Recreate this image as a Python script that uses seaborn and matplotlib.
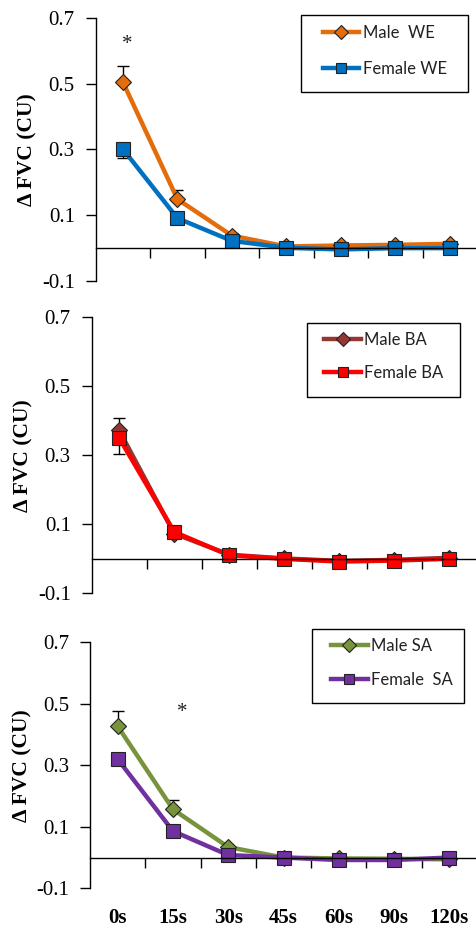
import numpy as np
import pandas as pd
import matplotlib
matplotlib.use("Agg")
import matplotlib.pyplot as plt
from matplotlib.lines import Line2D
from matplotlib.patches import Rectangle
import seaborn as sns

# ---------------- data ----------------
times = ['0s', '15s', '30s', '45s', '60s', '90s', '120s']
ytick_vals = [-0.1, 0.1, 0.3, 0.5, 0.7]
ytick_labels = ['-0.1', '0.1', '0.3', '0.5', '0.7']

male_we = [0.505, 0.149, 0.038, 0.005, 0.008, 0.010, 0.013]
female_we = [0.301, 0.091, 0.022, 0.001, -0.004, 0.000, 0.000]
male_we_err = [0.050, 0.028, 0.008, 0.004, 0.004, 0.004, 0.004]
female_we_err = [0.028, 0.005, 0.003, 0.002, 0.002, 0.002, 0.002]

male_ba = [0.372, 0.073, 0.012, 0.001, -0.006, -0.003, 0.003]
female_ba = [0.350, 0.078, 0.010, 0.000, -0.008, -0.005, 0.000]
male_ba_err = [0.037, 0.006, 0.005, 0.004, 0.004, 0.004, 0.004]
female_ba_err = [0.046, 0.005, 0.002, 0.015, 0.003, 0.002, 0.002]

male_sa = [0.427, 0.157, 0.034, 0.000, -0.003, -0.004, -0.006]
female_sa = [0.320, 0.086, 0.008, 0.000, -0.008, -0.008, 0.000]
male_sa_err = [0.049, 0.031, 0.008, 0.004, 0.004, 0.004, 0.004]
female_sa_err = [0.005, 0.005, 0.003, 0.012, 0.010, 0.010, 0.012]

labels_we = ['Male  WE', 'Female WE']
labels_ba = ['Male BA', 'Female BA']
labels_sa = ['Male SA', 'Female  SA']

colors_we = ['#E46C0A', '#0070C0']
colors_ba = ['#943634', '#FF0000']
colors_sa = ['#77933C', '#7030A0']

ylabel = 'Δ FVC (CU)'

# ---------------- style ----------------
plt.rcParams['font.family'] = ['Liberation Serif', 'DejaVu Serif']
plt.rcParams['axes.linewidth'] = 1.0

fig = plt.figure(figsize=(4.77, 9.32), dpi=100)

panels = [
    dict(rect=[0.2006, 0.6985, 0.7994, 0.2822], male=male_we, female=female_we,
         merr=male_we_err, ferr=female_we_err, labels=labels_we, colors=colors_we,
         box=(0.538, 0.719, 0.976, 1.011), leg_xy=(0.595, 0.973), spacing=1.2,
         ylab_x=-0.153, star=(0.075, 0.607)),
    dict(rect=[0.1922, 0.3634, 0.8078, 0.2961], male=male_ba, female=female_ba,
         merr=male_ba_err, ferr=female_ba_err, labels=labels_ba, colors=colors_ba,
         box=(0.558, 0.713, 0.9565, 0.980), leg_xy=(0.604, 0.948), spacing=1.04,
         ylab_x=-0.152, star=None),
    dict(rect=[0.1887, 0.0469, 0.8113, 0.2640], male=male_sa, female=female_sa,
         merr=male_sa_err, ferr=female_sa_err, labels=labels_sa, colors=colors_sa,
         box=(0.574, 0.752, 0.967, 1.053), leg_xy=(0.623, 1.019), spacing=1.1,
         ylab_x=-0.149, star=(1.16, 0.456)),
]

n = len(times)
xpos = np.arange(n)

for i, p in enumerate(panels):
    ax = fig.add_axes(p['rect'])
    df = pd.DataFrame({
        'time': times * 2,
        'value': list(p['male']) + list(p['female']),
        'group': [p['labels'][0]] * n + [p['labels'][1]] * n,
    })
    # error bars (male upward, female downward)
    zeros = np.zeros(n)
    ax.errorbar(xpos, p['male'], yerr=[zeros, p['merr']], fmt='none',
                ecolor='black', elinewidth=1.0, capsize=4, capthick=1.0, zorder=1)
    ax.errorbar(xpos, p['female'], yerr=[p['ferr'], zeros], fmt='none',
                ecolor='black', elinewidth=1.0, capsize=4, capthick=1.0, zorder=1)

    sns.pointplot(data=df, x='time', y='value', hue='group', order=times,
                  hue_order=p['labels'], palette=dict(zip(p['labels'], p['colors'])),
                  markers=['D', 's'], linestyles=['-', '-'], errorbar=None,
                  markersize=9.5, linewidth=3.2, markeredgecolor='#222222',
                  markeredgewidth=0.8, legend=False, ax=ax)
    for ln in ax.lines:
        if ln.get_marker() == 'D':
            ln.set_markersize(8.3)

    ax.set_xlim(-0.5, n - 0.5)
    ax.set_ylim(-0.1, 0.7)
    ax.set_yticks(ytick_vals)
    ax.set_yticklabels(ytick_labels, fontsize=15)
    ax.tick_params(axis='y', direction='out', length=7, width=1.0, pad=8, colors='black')
    ax.spines['top'].set_visible(False)
    ax.spines['right'].set_visible(False)
    ax.spines['bottom'].set_position(('data', 0))
    ax.set_xticks(np.arange(n) + 0.5)
    ax.set_xticklabels([])
    ax.tick_params(axis='x', direction='out', length=7, width=1.0)
    ax.set_xlabel('')
    ax.set_ylabel(ylabel, fontsize=15.5, fontweight='bold')
    ax.yaxis.set_label_coords(p['ylab_x'], 0.5)

    # legend box
    x0, y0, x1, y1 = p['box']
    ax.add_patch(Rectangle((x0, y0), x1 - x0, y1 - y0, transform=ax.transAxes,
                           facecolor='white', edgecolor='black', linewidth=1.0,
                           clip_on=False, zorder=4))
    handles = [
        Line2D([], [], color=p['colors'][0], lw=3.2, marker='D', markersize=7,
               markeredgecolor='#222222', markeredgewidth=0.8),
        Line2D([], [], color=p['colors'][1], lw=3.2, marker='s', markersize=7.5,
               markeredgecolor='#222222', markeredgewidth=0.8),
    ]
    leg = ax.legend(handles, p['labels'], loc='upper left', bbox_to_anchor=p['leg_xy'],
                    frameon=False, borderpad=0, borderaxespad=0,
                    handlelength=2.2, handletextpad=0.2, labelspacing=p['spacing'],
                    prop={'family': ['Lato', 'DejaVu Sans'], 'size': 12})
    for t in leg.get_texts():
        t.set_color('#222222')
    leg.set_zorder(5)

    if p['star'] is not None:
        ax.text(p['star'][0], p['star'][1], '*', fontsize=15, ha='center',
                va='baseline', color='#222222')

    if i == 2:
        for k, lab in enumerate(times):
            ax.text(k, -0.121, lab, transform=ax.get_xaxis_transform(),
                    ha='center', va='center', fontsize=15, fontweight='bold')

fig.savefig('out.png', dpi=100)
